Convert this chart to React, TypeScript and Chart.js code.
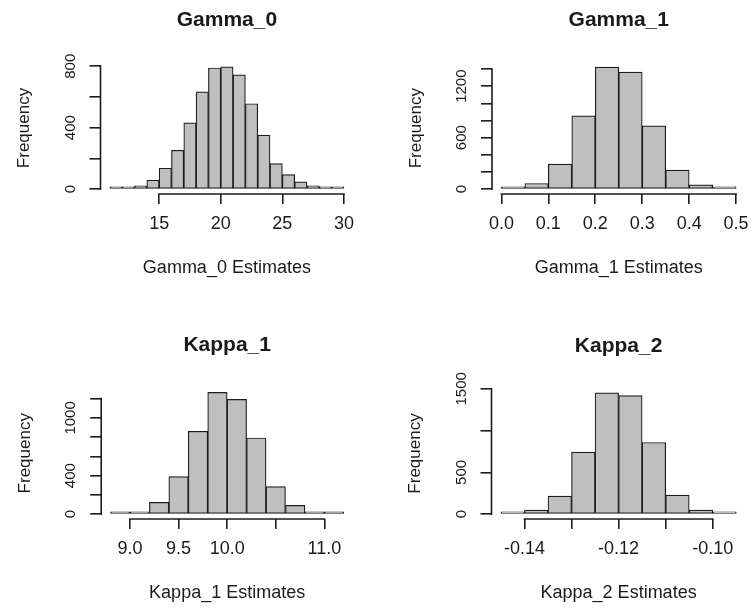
import React, { useEffect, useRef } from 'react';
import { Chart, registerables } from 'chart.js';

Chart.register(...registerables);

// ---------- data ----------
const gamma0Breaks = [11, 12, 13, 14, 15, 16, 17, 18, 19, 20, 21, 22, 23, 24, 25, 26, 27, 28, 29, 30];
const gamma0Counts = [3, 4, 22, 58, 136, 253, 432, 633, 789, 796, 744, 556, 352, 166, 95, 47, 22, 8, 5];
const gamma0XTicks = [15, 20, 25, 30];
const gamma0XLabels = ['15', '20', '25', '30'];
const gamma0YTicks = [0, 200, 400, 600, 800];
const gamma0YLabels = ['0', '', '400', '', '800'];

const gamma1Breaks = [0, 0.05, 0.1, 0.15, 0.2, 0.25, 0.3, 0.35, 0.4, 0.45, 0.5];
const gamma1Counts = [12, 66, 291, 854, 1421, 1363, 738, 221, 50, 12];
const gamma1XTicks = [0, 0.1, 0.2, 0.3, 0.4, 0.5];
const gamma1XLabels = ['0.0', '0.1', '0.2', '0.3', '0.4', '0.5'];
const gamma1YTicks = [0, 200, 400, 600, 800, 1000, 1200, 1400];
const gamma1YLabels = ['0', '', '', '600', '', '', '1200', ''];

const kappa1Breaks = [8.8, 9.0, 9.2, 9.4, 9.6, 9.8, 10.0, 10.2, 10.4, 10.6, 10.8, 11.0, 11.2];
const kappa1Counts = [3, 5, 122, 390, 861, 1265, 1192, 791, 286, 91, 17, 2];
const kappa1XTicks = [9.0, 9.5, 10.0, 10.5, 11.0];
const kappa1XLabels = ['9.0', '9.5', '10.0', '', '11.0'];
const kappa1YTicks = [0, 200, 400, 600, 800, 1000, 1200];
const kappa1YLabels = ['0', '', '400', '', '', '1000', ''];

const kappa2Breaks = [-0.145, -0.14, -0.135, -0.13, -0.125, -0.12, -0.115, -0.11, -0.105, -0.1, -0.095];
const kappa2Counts = [14, 48, 217, 742, 1452, 1420, 858, 229, 48, 14];
const kappa2XTicks = [-0.14, -0.13, -0.12, -0.11, -0.1];
const kappa2XLabels = ['-0.14', '', '-0.12', '', '-0.10'];
const kappa2YTicks = [0, 500, 1000, 1500];
const kappa2YLabels = ['0', '500', '', '1500'];

// ---------- style / layout ----------
const FAMILY = '"Liberation Sans", Arial, Helvetica, sans-serif';
const FILL = '#bfbfbf';
const LINE = '#1c1c1c';
const TEXT = '#1a1a1a';
const CW = 376;
const CH = 304;
const TITLE_SIZE = 21;
const XTICK_SIZE = 18;
const YTICK_SIZE = 15;
const XTITLE_SIZE = 18;
const YTITLE_SIZE = 17;
const XTL = 10;
const YTL = 11;
const AXIS_W = 1.6;

type Panel = {
  title: string;
  xTitle: string;
  breaks: number[];
  counts: number[];
  xTicks: number[];
  xLabels: string[];
  yTicks: number[];
  yLabels: string[];
  posX: number;
  posY: number;
  L: number;
  R: number;
  T: number;
  B: number;
};

const panels: Panel[] = [
  { title: 'Gamma_0', xTitle: 'Gamma_0 Estimates', breaks: gamma0Breaks, counts: gamma0Counts, xTicks: gamma0XTicks, xLabels: gamma0XLabels, yTicks: gamma0YTicks, yLabels: gamma0YLabels, posX: 0, posY: 0, L: 100.5, R: 353.3, T: 62, B: 194 },
  { title: 'Gamma_1', xTitle: 'Gamma_1 Estimates', breaks: gamma1Breaks, counts: gamma1Counts, xTicks: gamma1XTicks, xLabels: gamma1XLabels, yTicks: gamma1YTicks, yLabels: gamma1YLabels, posX: 376, posY: 0, L: 116, R: 369.5, T: 62.3, B: 194 },
  { title: 'Kappa_1', xTitle: 'Kappa_1 Estimates', breaks: kappa1Breaks, counts: kappa1Counts, xTicks: kappa1XTicks, xLabels: kappa1XLabels, yTicks: kappa1YTicks, yLabels: kappa1YLabels, posX: 0, posY: 304, L: 101.2, R: 353.1, T: 83.5, B: 215 },
  { title: 'Kappa_2', xTitle: 'Kappa_2 Estimates', breaks: kappa2Breaks, counts: kappa2Counts, xTicks: kappa2XTicks, xLabels: kappa2XLabels, yTicks: kappa2YTicks, yLabels: kappa2YLabels, posX: 376, posY: 304, L: 115.5, R: 369.7, T: 84, B: 215 },
];

const rAxes = {
  id: 'rAxes',
  afterDraw(chart: any) {
    const { ctx, chartArea, scales } = chart;
    const x = scales.x;
    const y = scales.y;
    const xt = x.ticks;
    const yt = y.ticks;
    ctx.save();
    ctx.strokeStyle = LINE;
    ctx.lineWidth = AXIS_W;
    ctx.lineCap = 'square';
    ctx.beginPath();
    ctx.moveTo(x.getPixelForValue(xt[0].value), chartArea.bottom);
    ctx.lineTo(x.getPixelForValue(xt[xt.length - 1].value), chartArea.bottom);
    ctx.moveTo(chartArea.left, y.getPixelForValue(yt[0].value));
    ctx.lineTo(chartArea.left, y.getPixelForValue(yt[yt.length - 1].value));
    ctx.stroke();
    ctx.restore();
  },
};

function measure(text: string, size: number): number {
  const c = document.createElement('canvas');
  const ctx = c.getContext('2d')!;
  ctx.font = `${size}px ${FAMILY}`;
  return ctx.measureText(text).width;
}

function HistPanel({ p }: { p: Panel }) {
  const ref = useRef<HTMLCanvasElement | null>(null);
  useEffect(() => {
    if (!ref.current) return;
    const centers = p.breaks.slice(0, -1).map((b, i) => (b + p.breaks[i + 1]) / 2);
    const data = centers.map((c, i) => ({ x: c, y: p.counts[i] }));
    const x0 = p.breaks[0];
    const x1 = p.breaks[p.breaks.length - 1];
    const xPad = (x1 - x0) * 0.04;
    const yMaxData = Math.max(...p.counts);
    const yPad = yMaxData * 0.04;
    const widest = Math.max(...p.yLabels.map((l) => measure(l, YTICK_SIZE)));
    const yTickPad = 30 - YTL - widest / 2;
    const titlePadTop = p.T - 42 - (TITLE_SIZE * 1.2) / 2;
    const titlePadBottom = 42 - (TITLE_SIZE * 1.2) / 2;
    const yTitlePadTop = p.L - 76 - (YTITLE_SIZE * 1.2) / 2;
    const xTitlePadBottom = CH - p.B - 74 - (XTITLE_SIZE * 1.2) / 2;
    const xTickPad = 30.5 - XTL - (XTICK_SIZE * 1.2) / 2;

    const chart = new Chart(ref.current, {
      type: 'bar',
      data: {
        datasets: [
          {
            data: data as any,
            backgroundColor: FILL,
            borderColor: LINE,
            borderWidth: 1.2,
            borderSkipped: false,
            barPercentage: 1,
            categoryPercentage: 1,
            minBarLength: 2.4,
          } as any,
        ],
      },
      options: {
        animation: false,
        responsive: false,
        maintainAspectRatio: false,
        events: [],
        layout: { padding: { left: 0, top: 0, right: CW - p.R, bottom: 0 } },
        plugins: {
          legend: { display: false },
          tooltip: { enabled: false },
          title: {
            display: true,
            text: p.title,
            color: TEXT,
            fullSize: false,
            font: { family: FAMILY, size: TITLE_SIZE, weight: 'bold' },
            padding: { top: titlePadTop, bottom: titlePadBottom },
          },
        },
        scales: {
          x: {
            type: 'linear',
            min: x0 - xPad,
            max: x1 + xPad,
            offset: false,
            border: { display: false },
            grid: {
              display: true,
              offset: false,
              drawOnChartArea: false,
              drawTicks: true,
              tickLength: XTL,
              color: LINE,
              lineWidth: AXIS_W,
            },
            ticks: {
              autoSkip: false,
              minRotation: 0,
              maxRotation: 0,
              padding: xTickPad,
              color: TEXT,
              font: { family: FAMILY, size: XTICK_SIZE },
              callback: (_v: any, i: number) => p.xLabels[i],
            },
            title: {
              display: true,
              text: p.xTitle,
              color: TEXT,
              font: { family: FAMILY, size: XTITLE_SIZE },
              padding: { top: 0, bottom: xTitlePadBottom },
            },
            afterBuildTicks: (s: any) => {
              s.ticks = p.xTicks.map((v) => ({ value: v }));
            },
            afterFit: (s: any) => {
              s.height = CH - p.B;
              s.paddingLeft = 0;
              s.paddingRight = 0;
            },
          } as any,
          y: {
            type: 'linear',
            min: -yPad,
            max: yMaxData + yPad,
            border: { display: false },
            grid: {
              display: true,
              offset: false,
              drawOnChartArea: false,
              drawTicks: true,
              tickLength: YTL,
              color: LINE,
              lineWidth: AXIS_W,
            },
            ticks: {
              autoSkip: false,
              minRotation: 90,
              maxRotation: 90,
              crossAlign: 'center',
              padding: yTickPad,
              color: TEXT,
              font: { family: FAMILY, size: YTICK_SIZE },
              callback: (_v: any, i: number) => p.yLabels[i],
            },
            title: {
              display: true,
              text: 'Frequency',
              color: TEXT,
              font: { family: FAMILY, size: YTITLE_SIZE },
              padding: { top: yTitlePadTop, bottom: 0 },
            },
            afterBuildTicks: (s: any) => {
              s.ticks = p.yTicks.map((v) => ({ value: v }));
            },
            afterFit: (s: any) => {
              s.width = p.L;
              s.paddingTop = 0;
              s.paddingBottom = 0;
            },
          } as any,
        },
      },
      plugins: [rAxes],
    } as any);
    return () => chart.destroy();
  }, [p]);

  return (
    <canvas
      ref={ref}
      width={CW}
      height={CH}
      style={{ position: 'absolute', left: p.posX, top: p.posY, width: CW, height: CH, display: 'block' }}
    />
  );
}

export default function App() {
  return (
    <div style={{ position: 'absolute', left: 0, top: 0, width: 752, height: 608, background: '#ffffff', overflow: 'hidden' }}>
      {panels.map((p) => (
        <HistPanel key={p.title} p={p} />
      ))}
    </div>
  );
}
